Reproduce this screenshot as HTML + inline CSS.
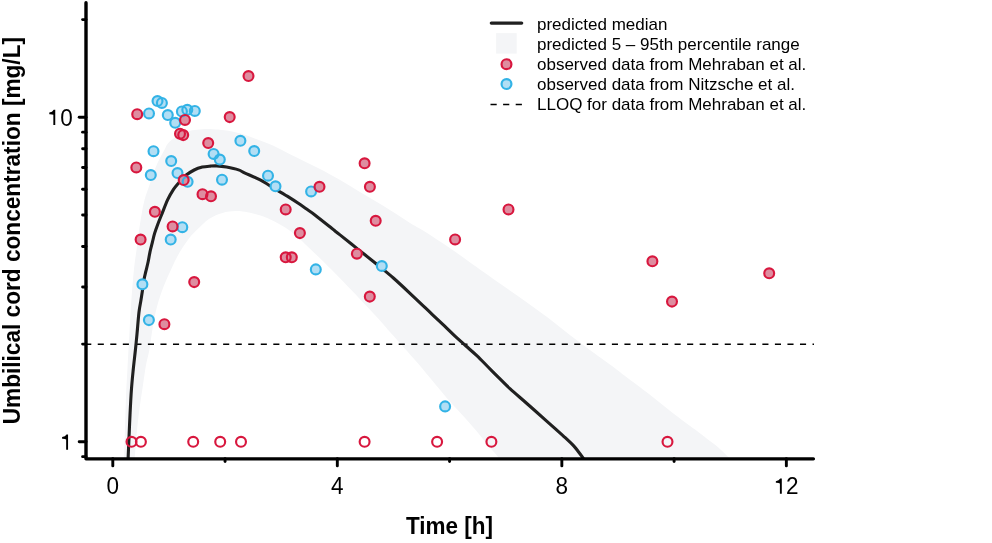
<!DOCTYPE html>
<html><head><meta charset="utf-8"><style>
html,body{margin:0;padding:0;background:#fff;width:992px;height:543px;overflow:hidden;}
svg{display:block;font-family:"Liberation Sans", sans-serif;will-change:transform;}
</style></head><body>
<svg width="992" height="543" viewBox="0 0 992 543"><defs><clipPath id="pc"><rect x="86" y="0" width="730" height="458.6"/></clipPath></defs><path d="M124.20,458.60 C124.48,448.83 125.37,414.77 125.90,400.00 C126.43,385.23 126.78,381.67 127.40,370.00 C128.02,358.33 128.93,341.67 129.60,330.00 C130.27,318.33 130.68,310.00 131.40,300.00 C132.12,290.00 133.05,278.33 133.90,270.00 C134.75,261.67 135.73,256.00 136.50,250.00 C137.27,244.00 137.67,239.83 138.50,234.00 C139.33,228.17 140.50,220.67 141.50,215.00 C142.50,209.33 143.17,205.00 144.50,200.00 C145.83,195.00 147.65,190.40 149.50,185.00 C151.35,179.60 153.85,172.10 155.60,167.60 C157.35,163.10 158.47,161.07 160.00,158.00 C161.53,154.93 163.45,151.67 164.80,149.20 C166.15,146.73 166.22,145.27 168.10,143.20 C169.98,141.13 173.42,138.55 176.10,136.80 C178.78,135.05 181.50,133.78 184.20,132.70 C186.90,131.62 189.35,130.88 192.30,130.30 C195.25,129.72 198.42,129.38 201.90,129.20 C205.38,129.02 209.43,129.02 213.20,129.20 C216.97,129.38 219.93,129.58 224.50,130.30 C229.07,131.02 235.22,132.02 240.60,133.50 C245.98,134.98 251.42,137.18 256.80,139.20 C262.18,141.22 267.53,143.18 272.90,145.60 C278.27,148.02 283.62,151.00 289.00,153.70 C294.38,156.40 300.03,159.25 305.20,161.80 C310.37,164.35 314.25,166.00 320.00,169.00 C325.75,172.00 332.27,175.50 339.70,179.80 C347.13,184.10 356.30,189.82 364.60,194.80 C372.90,199.78 381.93,205.02 389.50,209.70 C397.07,214.38 404.40,219.43 410.00,222.90 C415.60,226.37 418.10,227.38 423.10,230.50 C428.10,233.62 434.47,237.93 440.00,241.60 C445.53,245.27 449.28,247.60 456.30,252.50 C463.32,257.40 474.12,265.33 482.10,271.00 C490.08,276.67 496.83,281.35 504.20,286.50 C511.57,291.65 518.93,296.65 526.30,301.90 C533.67,307.15 541.03,312.40 548.40,318.00 C555.77,323.60 563.13,329.83 570.50,335.50 C577.87,341.17 585.23,346.58 592.60,352.00 C599.97,357.42 609.13,363.87 614.70,368.00 C620.27,372.13 620.28,372.45 626.00,376.80 C631.72,381.15 641.32,388.15 649.00,394.10 C656.68,400.05 664.42,406.58 672.10,412.50 C679.78,418.42 689.45,425.35 695.10,429.60 C700.75,433.85 702.17,435.05 706.00,438.00 C709.83,440.95 714.13,443.87 718.10,447.30 C722.07,450.73 727.85,456.72 729.80,458.60 L499.50,458.60 C499.00,458.00 498.58,457.43 496.50,455.00 C494.42,452.57 490.55,448.25 487.00,444.00 C483.45,439.75 479.47,434.50 475.20,429.50 C470.93,424.50 466.00,419.08 461.40,414.00 C456.80,408.92 452.67,404.83 447.60,399.00 C442.53,393.17 436.73,385.83 431.00,379.00 C425.27,372.17 420.03,365.83 413.20,358.00 C406.37,350.17 396.07,338.83 390.00,332.00 C383.93,325.17 382.07,322.77 376.80,317.00 C371.53,311.23 364.53,303.85 358.40,297.40 C352.27,290.95 343.97,282.40 340.00,278.30 C336.03,274.20 337.60,275.80 334.60,272.80 C331.60,269.80 326.10,264.30 322.00,260.30 C317.90,256.30 313.67,252.30 310.00,248.80 C306.33,245.30 303.58,242.47 300.00,239.30 C296.42,236.13 292.73,232.77 288.50,229.80 C284.27,226.83 279.40,223.92 274.60,221.50 C269.80,219.08 264.63,216.92 259.70,215.30 C254.77,213.68 249.03,212.52 245.00,211.80 C240.97,211.08 239.27,210.82 235.50,211.00 C231.73,211.18 226.77,211.60 222.40,212.90 C218.03,214.20 213.67,215.85 209.30,218.80 C204.93,221.75 199.77,227.07 196.20,230.60 C192.63,234.13 190.75,236.23 187.90,240.00 C185.05,243.77 181.85,248.42 179.10,253.20 C176.35,257.98 173.97,263.18 171.40,268.70 C168.83,274.22 166.08,280.05 163.70,286.30 C161.32,292.55 158.95,299.22 157.10,306.20 C155.25,313.18 153.90,320.85 152.60,328.20 C151.30,335.55 150.40,344.17 149.30,350.30 C148.20,356.43 147.05,359.22 146.00,365.00 C144.95,370.78 144.00,378.33 143.00,385.00 C142.00,391.67 141.00,397.50 140.00,405.00 C139.00,412.50 137.88,421.07 137.00,430.00 C136.12,438.93 135.08,453.83 134.70,458.60 Z" fill="#f4f5f7" stroke="none" clip-path="url(#pc)"/><line x1="85.2" y1="344.2" x2="814" y2="344.2" stroke="#000" stroke-width="1.5" stroke-dasharray="6.1 6.44"/><path d="M128.10,458.60 C128.23,455.50 128.58,447.27 128.90,440.00 C129.22,432.73 129.58,423.33 130.00,415.00 C130.42,406.67 130.87,397.50 131.40,390.00 C131.93,382.50 132.53,376.67 133.20,370.00 C133.87,363.33 134.77,356.00 135.40,350.00 C136.03,344.00 136.40,340.33 137.00,334.00 C137.60,327.67 138.35,317.57 139.00,312.00 C139.65,306.43 140.35,304.03 140.90,300.60 C141.45,297.17 141.77,295.00 142.30,291.40 C142.83,287.80 143.50,282.37 144.10,279.00 C144.70,275.63 145.22,274.12 145.90,271.20 C146.58,268.28 147.52,264.73 148.20,261.50 C148.88,258.27 149.32,254.95 150.00,251.80 C150.68,248.65 151.53,245.67 152.30,242.60 C153.07,239.53 153.68,236.47 154.60,233.40 C155.52,230.33 156.65,227.27 157.80,224.20 C158.95,221.13 159.85,219.08 161.50,215.00 C163.15,210.92 165.70,203.97 167.70,199.70 C169.70,195.43 171.67,192.20 173.50,189.40 C175.33,186.60 176.75,185.17 178.70,182.90 C180.65,180.63 182.62,177.95 185.20,175.80 C187.78,173.65 191.35,171.45 194.20,170.00 C197.05,168.55 199.62,167.75 202.30,167.10 C204.98,166.45 207.88,166.30 210.30,166.10 C212.72,165.90 214.10,165.73 216.80,165.90 C219.50,166.07 222.88,166.43 226.50,167.10 C230.12,167.77 235.42,168.90 238.50,169.90 C241.58,170.90 241.47,171.47 245.00,173.10 C248.53,174.73 254.78,177.12 259.70,179.70 C264.62,182.28 269.58,185.65 274.50,188.60 C279.42,191.55 285.23,194.95 289.20,197.40 C293.17,199.85 295.40,201.35 298.30,203.30 C301.20,205.25 303.83,207.17 306.60,209.10 C309.37,211.03 310.77,211.75 314.90,214.90 C319.03,218.05 328.05,225.32 331.40,228.00 C334.75,230.68 333.57,229.85 335.00,231.00 C336.43,232.15 336.10,231.80 340.00,234.90 C343.90,238.00 352.27,244.70 358.40,249.60 C364.53,254.50 370.97,259.57 376.80,264.30 C382.63,269.03 387.25,272.58 393.40,278.00 C399.55,283.42 407.25,290.75 413.70,296.80 C420.15,302.85 426.93,309.40 432.10,314.30 C437.27,319.20 440.88,322.55 444.70,326.20 C448.52,329.85 451.45,332.90 455.00,336.20 C458.55,339.50 462.32,342.72 466.00,346.00 C469.68,349.28 473.42,352.40 477.10,355.90 C480.78,359.40 484.42,363.30 488.10,367.00 C491.78,370.70 495.52,374.45 499.20,378.10 C502.88,381.75 505.68,384.75 510.20,388.90 C514.72,393.05 520.50,397.88 526.30,403.00 C532.10,408.12 540.28,415.40 545.00,419.60 C549.72,423.80 551.40,425.33 554.60,428.20 C557.80,431.07 561.02,433.85 564.20,436.80 C567.38,439.75 571.30,443.37 573.70,445.90 C576.10,448.43 576.95,449.88 578.60,452.00 C580.25,454.12 582.77,457.50 583.60,458.60" fill="none" stroke="#202020" stroke-width="3.1" stroke-linejoin="round" clip-path="url(#pc)"/><circle cx="131.5" cy="441.8" r="4.95" fill="none" stroke="#d8173e" stroke-width="2.15"/><circle cx="140.9" cy="441.8" r="4.95" fill="none" stroke="#d8173e" stroke-width="2.15"/><circle cx="193.2" cy="441.8" r="4.95" fill="none" stroke="#d8173e" stroke-width="2.15"/><circle cx="220.2" cy="441.8" r="4.95" fill="none" stroke="#d8173e" stroke-width="2.15"/><circle cx="241.0" cy="441.8" r="4.95" fill="none" stroke="#d8173e" stroke-width="2.15"/><circle cx="364.6" cy="441.8" r="4.95" fill="none" stroke="#d8173e" stroke-width="2.15"/><circle cx="437.1" cy="441.8" r="4.95" fill="none" stroke="#d8173e" stroke-width="2.15"/><circle cx="491.4" cy="441.8" r="4.95" fill="none" stroke="#d8173e" stroke-width="2.15"/><circle cx="667.5" cy="441.8" r="4.95" fill="none" stroke="#d8173e" stroke-width="2.15"/><circle cx="149.0" cy="113.4" r="4.95" fill="#b2def4"/><circle cx="157.5" cy="101.0" r="4.95" fill="#b2def4"/><circle cx="161.9" cy="102.9" r="4.95" fill="#b2def4"/><circle cx="167.8" cy="115.0" r="4.95" fill="#b2def4"/><circle cx="175.2" cy="122.8" r="4.95" fill="#b2def4"/><circle cx="181.9" cy="111.4" r="4.95" fill="#b2def4"/><circle cx="187.3" cy="109.8" r="4.95" fill="#b2def4"/><circle cx="194.8" cy="110.9" r="4.95" fill="#b2def4"/><circle cx="153.5" cy="151.2" r="4.95" fill="#b2def4"/><circle cx="171.2" cy="161.0" r="4.95" fill="#b2def4"/><circle cx="150.8" cy="175.0" r="4.95" fill="#b2def4"/><circle cx="177.5" cy="173.0" r="4.95" fill="#b2def4"/><circle cx="187.6" cy="181.8" r="4.95" fill="#b2def4"/><circle cx="213.6" cy="153.9" r="4.95" fill="#b2def4"/><circle cx="219.8" cy="159.5" r="4.95" fill="#b2def4"/><circle cx="222.0" cy="179.7" r="4.95" fill="#b2def4"/><circle cx="240.4" cy="140.8" r="4.95" fill="#b2def4"/><circle cx="254.2" cy="151.0" r="4.95" fill="#b2def4"/><circle cx="268.0" cy="175.7" r="4.95" fill="#b2def4"/><circle cx="275.5" cy="186.3" r="4.95" fill="#b2def4"/><circle cx="311.1" cy="191.4" r="4.95" fill="#b2def4"/><circle cx="170.7" cy="239.5" r="4.95" fill="#b2def4"/><circle cx="182.3" cy="227.2" r="4.95" fill="#b2def4"/><circle cx="142.4" cy="284.3" r="4.95" fill="#b2def4"/><circle cx="148.9" cy="320.1" r="4.95" fill="#b2def4"/><circle cx="315.8" cy="269.4" r="4.95" fill="#b2def4"/><circle cx="381.8" cy="266.0" r="4.95" fill="#b2def4"/><circle cx="445.1" cy="406.4" r="4.95" fill="#b2def4"/><circle cx="248.5" cy="76.0" r="4.95" fill="#de8da0"/><circle cx="137.2" cy="114.2" r="4.95" fill="#de8da0"/><circle cx="185.0" cy="119.9" r="4.95" fill="#de8da0"/><circle cx="229.7" cy="117.1" r="4.95" fill="#de8da0"/><circle cx="180.0" cy="133.7" r="4.95" fill="#de8da0"/><circle cx="183.2" cy="135.1" r="4.95" fill="#de8da0"/><circle cx="208.2" cy="143.0" r="4.95" fill="#de8da0"/><circle cx="136.3" cy="167.4" r="4.95" fill="#de8da0"/><circle cx="183.7" cy="180.0" r="4.95" fill="#de8da0"/><circle cx="202.5" cy="194.2" r="4.95" fill="#de8da0"/><circle cx="211.0" cy="196.3" r="4.95" fill="#de8da0"/><circle cx="154.9" cy="211.8" r="4.95" fill="#de8da0"/><circle cx="172.6" cy="226.4" r="4.95" fill="#de8da0"/><circle cx="140.6" cy="239.5" r="4.95" fill="#de8da0"/><circle cx="194.2" cy="282.1" r="4.95" fill="#de8da0"/><circle cx="164.4" cy="324.2" r="4.95" fill="#de8da0"/><circle cx="364.6" cy="163.3" r="4.95" fill="#de8da0"/><circle cx="369.9" cy="186.8" r="4.95" fill="#de8da0"/><circle cx="319.5" cy="186.8" r="4.95" fill="#de8da0"/><circle cx="285.7" cy="209.4" r="4.95" fill="#de8da0"/><circle cx="375.7" cy="220.8" r="4.95" fill="#de8da0"/><circle cx="299.9" cy="233.1" r="4.95" fill="#de8da0"/><circle cx="285.7" cy="257.3" r="4.95" fill="#de8da0"/><circle cx="291.8" cy="257.3" r="4.95" fill="#de8da0"/><circle cx="356.9" cy="253.7" r="4.95" fill="#de8da0"/><circle cx="369.8" cy="296.6" r="4.95" fill="#de8da0"/><circle cx="455.1" cy="239.4" r="4.95" fill="#de8da0"/><circle cx="508.5" cy="209.4" r="4.95" fill="#de8da0"/><circle cx="652.4" cy="261.3" r="4.95" fill="#de8da0"/><circle cx="672.0" cy="301.6" r="4.95" fill="#de8da0"/><circle cx="769.2" cy="273.3" r="4.95" fill="#de8da0"/><circle cx="149.0" cy="113.4" r="4.95" fill="none" stroke="#33b3e6" stroke-width="2.15"/><circle cx="157.5" cy="101.0" r="4.95" fill="none" stroke="#33b3e6" stroke-width="2.15"/><circle cx="161.9" cy="102.9" r="4.95" fill="none" stroke="#33b3e6" stroke-width="2.15"/><circle cx="167.8" cy="115.0" r="4.95" fill="none" stroke="#33b3e6" stroke-width="2.15"/><circle cx="175.2" cy="122.8" r="4.95" fill="none" stroke="#33b3e6" stroke-width="2.15"/><circle cx="181.9" cy="111.4" r="4.95" fill="none" stroke="#33b3e6" stroke-width="2.15"/><circle cx="187.3" cy="109.8" r="4.95" fill="none" stroke="#33b3e6" stroke-width="2.15"/><circle cx="194.8" cy="110.9" r="4.95" fill="none" stroke="#33b3e6" stroke-width="2.15"/><circle cx="153.5" cy="151.2" r="4.95" fill="none" stroke="#33b3e6" stroke-width="2.15"/><circle cx="171.2" cy="161.0" r="4.95" fill="none" stroke="#33b3e6" stroke-width="2.15"/><circle cx="150.8" cy="175.0" r="4.95" fill="none" stroke="#33b3e6" stroke-width="2.15"/><circle cx="177.5" cy="173.0" r="4.95" fill="none" stroke="#33b3e6" stroke-width="2.15"/><circle cx="187.6" cy="181.8" r="4.95" fill="none" stroke="#33b3e6" stroke-width="2.15"/><circle cx="213.6" cy="153.9" r="4.95" fill="none" stroke="#33b3e6" stroke-width="2.15"/><circle cx="219.8" cy="159.5" r="4.95" fill="none" stroke="#33b3e6" stroke-width="2.15"/><circle cx="222.0" cy="179.7" r="4.95" fill="none" stroke="#33b3e6" stroke-width="2.15"/><circle cx="240.4" cy="140.8" r="4.95" fill="none" stroke="#33b3e6" stroke-width="2.15"/><circle cx="254.2" cy="151.0" r="4.95" fill="none" stroke="#33b3e6" stroke-width="2.15"/><circle cx="268.0" cy="175.7" r="4.95" fill="none" stroke="#33b3e6" stroke-width="2.15"/><circle cx="275.5" cy="186.3" r="4.95" fill="none" stroke="#33b3e6" stroke-width="2.15"/><circle cx="311.1" cy="191.4" r="4.95" fill="none" stroke="#33b3e6" stroke-width="2.15"/><circle cx="170.7" cy="239.5" r="4.95" fill="none" stroke="#33b3e6" stroke-width="2.15"/><circle cx="182.3" cy="227.2" r="4.95" fill="none" stroke="#33b3e6" stroke-width="2.15"/><circle cx="142.4" cy="284.3" r="4.95" fill="none" stroke="#33b3e6" stroke-width="2.15"/><circle cx="148.9" cy="320.1" r="4.95" fill="none" stroke="#33b3e6" stroke-width="2.15"/><circle cx="315.8" cy="269.4" r="4.95" fill="none" stroke="#33b3e6" stroke-width="2.15"/><circle cx="381.8" cy="266.0" r="4.95" fill="none" stroke="#33b3e6" stroke-width="2.15"/><circle cx="445.1" cy="406.4" r="4.95" fill="none" stroke="#33b3e6" stroke-width="2.15"/><circle cx="248.5" cy="76.0" r="4.95" fill="none" stroke="#d8173e" stroke-width="2.15"/><circle cx="137.2" cy="114.2" r="4.95" fill="none" stroke="#d8173e" stroke-width="2.15"/><circle cx="185.0" cy="119.9" r="4.95" fill="none" stroke="#d8173e" stroke-width="2.15"/><circle cx="229.7" cy="117.1" r="4.95" fill="none" stroke="#d8173e" stroke-width="2.15"/><circle cx="180.0" cy="133.7" r="4.95" fill="none" stroke="#d8173e" stroke-width="2.15"/><circle cx="183.2" cy="135.1" r="4.95" fill="none" stroke="#d8173e" stroke-width="2.15"/><circle cx="208.2" cy="143.0" r="4.95" fill="none" stroke="#d8173e" stroke-width="2.15"/><circle cx="136.3" cy="167.4" r="4.95" fill="none" stroke="#d8173e" stroke-width="2.15"/><circle cx="183.7" cy="180.0" r="4.95" fill="none" stroke="#d8173e" stroke-width="2.15"/><circle cx="202.5" cy="194.2" r="4.95" fill="none" stroke="#d8173e" stroke-width="2.15"/><circle cx="211.0" cy="196.3" r="4.95" fill="none" stroke="#d8173e" stroke-width="2.15"/><circle cx="154.9" cy="211.8" r="4.95" fill="none" stroke="#d8173e" stroke-width="2.15"/><circle cx="172.6" cy="226.4" r="4.95" fill="none" stroke="#d8173e" stroke-width="2.15"/><circle cx="140.6" cy="239.5" r="4.95" fill="none" stroke="#d8173e" stroke-width="2.15"/><circle cx="194.2" cy="282.1" r="4.95" fill="none" stroke="#d8173e" stroke-width="2.15"/><circle cx="164.4" cy="324.2" r="4.95" fill="none" stroke="#d8173e" stroke-width="2.15"/><circle cx="364.6" cy="163.3" r="4.95" fill="none" stroke="#d8173e" stroke-width="2.15"/><circle cx="369.9" cy="186.8" r="4.95" fill="none" stroke="#d8173e" stroke-width="2.15"/><circle cx="319.5" cy="186.8" r="4.95" fill="none" stroke="#d8173e" stroke-width="2.15"/><circle cx="285.7" cy="209.4" r="4.95" fill="none" stroke="#d8173e" stroke-width="2.15"/><circle cx="375.7" cy="220.8" r="4.95" fill="none" stroke="#d8173e" stroke-width="2.15"/><circle cx="299.9" cy="233.1" r="4.95" fill="none" stroke="#d8173e" stroke-width="2.15"/><circle cx="285.7" cy="257.3" r="4.95" fill="none" stroke="#d8173e" stroke-width="2.15"/><circle cx="291.8" cy="257.3" r="4.95" fill="none" stroke="#d8173e" stroke-width="2.15"/><circle cx="356.9" cy="253.7" r="4.95" fill="none" stroke="#d8173e" stroke-width="2.15"/><circle cx="369.8" cy="296.6" r="4.95" fill="none" stroke="#d8173e" stroke-width="2.15"/><circle cx="455.1" cy="239.4" r="4.95" fill="none" stroke="#d8173e" stroke-width="2.15"/><circle cx="508.5" cy="209.4" r="4.95" fill="none" stroke="#d8173e" stroke-width="2.15"/><circle cx="652.4" cy="261.3" r="4.95" fill="none" stroke="#d8173e" stroke-width="2.15"/><circle cx="672.0" cy="301.6" r="4.95" fill="none" stroke="#d8173e" stroke-width="2.15"/><circle cx="769.2" cy="273.3" r="4.95" fill="none" stroke="#d8173e" stroke-width="2.15"/><path d="M86,2.8 L86,458.85 L813.4,458.85" fill="none" stroke="#000" stroke-width="3.4" stroke-linecap="round" stroke-linejoin="round"/><line x1="79.2" y1="441.80" x2="86" y2="441.80" stroke="#000" stroke-width="2.9" stroke-linecap="round"/><line x1="79.2" y1="117.30" x2="86" y2="117.30" stroke="#000" stroke-width="2.9" stroke-linecap="round"/><line x1="82.6" y1="456.65" x2="86" y2="456.65" stroke="#000" stroke-width="2.9" stroke-linecap="round"/><line x1="82.6" y1="344.12" x2="86" y2="344.12" stroke="#000" stroke-width="2.9" stroke-linecap="round"/><line x1="82.6" y1="286.97" x2="86" y2="286.97" stroke="#000" stroke-width="2.9" stroke-linecap="round"/><line x1="82.6" y1="246.43" x2="86" y2="246.43" stroke="#000" stroke-width="2.9" stroke-linecap="round"/><line x1="82.6" y1="214.98" x2="86" y2="214.98" stroke="#000" stroke-width="2.9" stroke-linecap="round"/><line x1="82.6" y1="189.29" x2="86" y2="189.29" stroke="#000" stroke-width="2.9" stroke-linecap="round"/><line x1="82.6" y1="167.57" x2="86" y2="167.57" stroke="#000" stroke-width="2.9" stroke-linecap="round"/><line x1="82.6" y1="148.75" x2="86" y2="148.75" stroke="#000" stroke-width="2.9" stroke-linecap="round"/><line x1="82.6" y1="132.15" x2="86" y2="132.15" stroke="#000" stroke-width="2.9" stroke-linecap="round"/><line x1="82.6" y1="19.62" x2="86" y2="19.62" stroke="#000" stroke-width="2.9" stroke-linecap="round"/><line x1="112.80" y1="458.6" x2="112.80" y2="465.9" stroke="#000" stroke-width="2.9" stroke-linecap="round"/><line x1="337.32" y1="458.6" x2="337.32" y2="465.9" stroke="#000" stroke-width="2.9" stroke-linecap="round"/><line x1="561.84" y1="458.6" x2="561.84" y2="465.9" stroke="#000" stroke-width="2.9" stroke-linecap="round"/><line x1="786.36" y1="458.6" x2="786.36" y2="465.9" stroke="#000" stroke-width="2.9" stroke-linecap="round"/><line x1="225.06" y1="458.6" x2="225.06" y2="461.6" stroke="#000" stroke-width="2.9" stroke-linecap="round"/><line x1="449.58" y1="458.6" x2="449.58" y2="461.6" stroke="#000" stroke-width="2.9" stroke-linecap="round"/><line x1="674.10" y1="458.6" x2="674.10" y2="461.6" stroke="#000" stroke-width="2.9" stroke-linecap="round"/><text transform="translate(112.80,493.75) scale(0.975,1)" text-anchor="middle" font-family="Liberation Sans" font-size="23.1" fill="#000">0</text><text transform="translate(337.32,493.75) scale(0.975,1)" text-anchor="middle" font-family="Liberation Sans" font-size="23.1" fill="#000">4</text><text transform="translate(561.84,493.75) scale(0.975,1)" text-anchor="middle" font-family="Liberation Sans" font-size="23.1" fill="#000">8</text><path d="M781.80,478.45 L781.80,493.75 L779.90,493.75 L779.90,483.45 Q778.65,482.75 775.85,482.85 L775.85,481.15 Q779.05,480.85 780.25,478.45 Z" fill="#000"/><text transform="translate(786.10,493.75) scale(0.975,1)" text-anchor="start" font-family="Liberation Sans" font-size="23.1" fill="#000">2</text><path d="M55.25,109.80 L55.25,125.10 L53.35,125.10 L53.35,114.80 Q52.10,114.10 49.30,114.20 L49.30,112.50 Q52.50,112.20 53.70,109.80 Z" fill="#000"/><text transform="translate(60.30,125.70) scale(0.975,1)" text-anchor="start" font-family="Liberation Sans" font-size="23.1" fill="#000">0</text><path d="M68.05,434.40 L68.05,449.70 L66.15,449.70 L66.15,439.40 Q64.90,438.70 62.10,438.80 L62.10,437.10 Q65.30,436.80 66.50,434.40 Z" fill="#000"/><text transform="translate(449.5,534.2) scale(0.945,1)" text-anchor="middle" font-family="Liberation Sans" font-size="23.8" font-weight="bold" fill="#000">Time [h]</text><text transform="translate(19.6,230.65) rotate(-90) scale(0.9845,1)" text-anchor="middle" font-family="Liberation Sans" font-size="23.0" font-weight="bold" fill="#000">Umbilical cord concentration [mg/L]</text><line x1="491.3" y1="23.1" x2="521.7" y2="23.1" stroke="#202020" stroke-width="3.2" stroke-linecap="round"/><rect x="496.1" y="33.1" width="20.6" height="20.5" fill="#f4f5f7"/><circle cx="506.5" cy="64.2" r="4.95" fill="#de8da0" stroke="#d8173e" stroke-width="2.15"/><circle cx="506.5" cy="84.0" r="4.95" fill="#b2def4" stroke="#33b3e6" stroke-width="2.15"/><line x1="490.5" y1="104.4" x2="522" y2="104.4" stroke="#000" stroke-width="1.5" stroke-dasharray="6.2 6.4"/><text x="537.0" y="29.5" font-family="Liberation Sans" font-size="17" fill="#000">predicted median</text><text x="537.0" y="49.8" font-family="Liberation Sans" font-size="17" fill="#000">predicted 5 – 95th percentile range</text><text x="537.0" y="69.9" font-family="Liberation Sans" font-size="17" fill="#000">observed data from Mehraban et al.</text><text x="537.0" y="90.1" font-family="Liberation Sans" font-size="17" fill="#000">observed data from Nitzsche et al.</text><text x="537.0" y="110.2" font-family="Liberation Sans" font-size="17" fill="#000">LLOQ for data from Mehraban et al.</text></svg>
</body></html>
